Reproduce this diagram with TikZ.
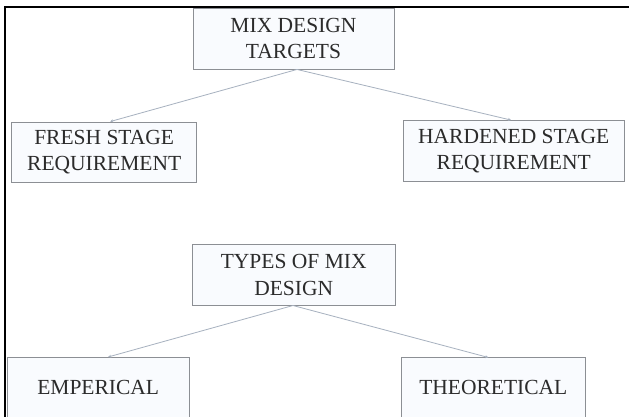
\documentclass[tikz,border=0pt]{standalone}
\usepackage{fontspec}
\setmainfont{Liberation Serif}
\usetikzlibrary{arrows.meta}
\definecolor{boxline}{HTML}{8C8F94}
\definecolor{boxfill}{HTML}{F9FBFE}
\definecolor{conn}{HTML}{A7B1BF}
\definecolor{txt}{HTML}{2B2B2B}
\tikzset{
  box/.style={draw=boxline, line width=0.9pt, fill=boxfill, rectangle, inner sep=0pt,
    align=center, text=txt, font=\fontsize{21.5}{26.5}\selectfont},
  conline/.style={draw=conn, line width=0.8pt, -{Stealth[length=3pt,width=3pt]}}
}
\begin{document}
\begin{tikzpicture}[x=1pt,y=-1pt]
\useasboundingbox (0,0) rectangle (629,416);
\fill[white] (0,0) rectangle (629,416);
\draw[black, line width=2pt] (5.3,420) -- (5.3,7) -- (632,7);
\node[box, minimum width=201pt, minimum height=61pt] (t1) at (293.5,38.5) {MIX DESIGN\\TARGETS};
\node[box, minimum width=185pt, minimum height=60pt] (fresh) at (104.2,152) {FRESH STAGE\\REQUIREMENT};
\node[box, minimum width=221pt, minimum height=61pt] (hard) at (513.7,151) {HARDENED STAGE\\REQUIREMENT};
\node[box, minimum width=202.6pt, minimum height=60.5pt] (types) at (293.7,274.8) {TYPES OF MIX\\DESIGN};
\node[box, minimum width=181.7pt, minimum height=60pt] (emp) at (98.2,387.4) {EMPERICAL};
\node[box, minimum width=183.3pt, minimum height=60pt] (theo) at (493.3,387.9) {THEORETICAL};
\draw[conline] ([xshift=3.5pt]t1.south) -- ([xshift=6pt]fresh.north);
\draw[conline] ([xshift=3.5pt]t1.south) -- ([xshift=-2.7pt]hard.north);
\draw[conline] ([xshift=-0.7pt]types.south) -- ([xshift=10pt]emp.north);
\draw[conline] ([xshift=-0.7pt]types.south) -- ([xshift=-5pt]theo.north);
\end{tikzpicture}
\end{document}
